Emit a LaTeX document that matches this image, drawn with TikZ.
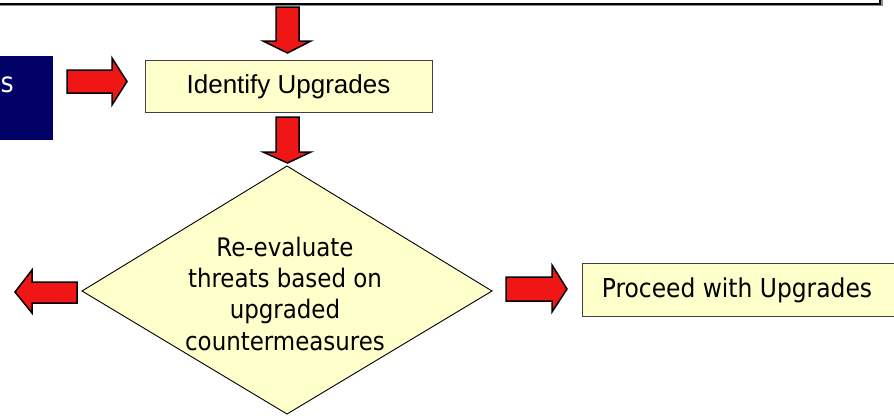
\documentclass[tikz,border=0pt]{standalone}
\usepackage{fontspec}
\setmainfont{Liberation Sans}
\newfontfamily\tah{DejaVu Sans Condensed}
\definecolor{boxyellow}{RGB}{255,255,204}
\definecolor{arrowred}{RGB}{240,22,22}
\definecolor{navy}{RGB}{0,0,102}
\begin{document}
\begin{tikzpicture}[x=1pt,y=-1pt,
  redarrow/.style={fill=arrowred,draw=black,line width=1.5pt,line join=miter},
  ybox/.style={fill=boxyellow,draw=black!75,line width=0.8pt},
  lbl/.style={inner sep=0pt,align=center}]
\useasboundingbox (0,0) rectangle (894,415);
% top box
\fill[black!45] (-20,-50) rectangle (883,6);
\draw[fill=white,line width=2.5pt] (-20,-50) rectangle (880,4);
% dark blue box
\fill[navy] (-5,56) rectangle (53,140);
\node[lbl,text=white,anchor=base west,font=\tah\fontsize{28}{28}\selectfont] (s) at (0.5,92) {s};
% identify box
\draw[ybox] (145,60) rectangle (432,112);
\node[lbl,font=\fontsize{26}{26}\selectfont] (ident) at (288.5,87) {Identify Upgrades};
% diamond
\draw[ybox,draw=black,line width=0.9pt] (287,166) -- (492,291) -- (287,414) -- (82,291) -- cycle;
\node[lbl,font=\tah\fontsize{25.5}{31.3}\selectfont,anchor=base] (diam) at (285,350) {Re-evaluate\\threats based on\\upgraded\\countermeasures};
% proceed box
\draw[ybox] (582,263) rectangle (900,316);
\node[lbl,font=\tah\fontsize{26}{26}\selectfont] (proc) at (737,290) {Proceed with Upgrades};
% arrows
\draw[redarrow] (276,7) -- (299,7) -- (299,41) -- (311,41) -- (287.5,53) -- (263,41) -- (276,41) -- cycle;
\draw[redarrow] (276,117) -- (299,117) -- (299,152) -- (311,152) -- (287.5,163) -- (263,152) -- (276,152) -- cycle;
\draw[redarrow] (67,70) -- (112,70) -- (112,58) -- (127,81.5) -- (112,105) -- (112,93) -- (67,93) -- cycle;
\draw[redarrow] (506,277) -- (552,277) -- (552,265) -- (567,289) -- (552,312) -- (552,301) -- (506,301) -- cycle;
\draw[redarrow] (77,282) -- (32,282) -- (32,270) -- (15,292) -- (32,313) -- (32,303) -- (77,303) -- cycle;
\end{tikzpicture}
\end{document}
